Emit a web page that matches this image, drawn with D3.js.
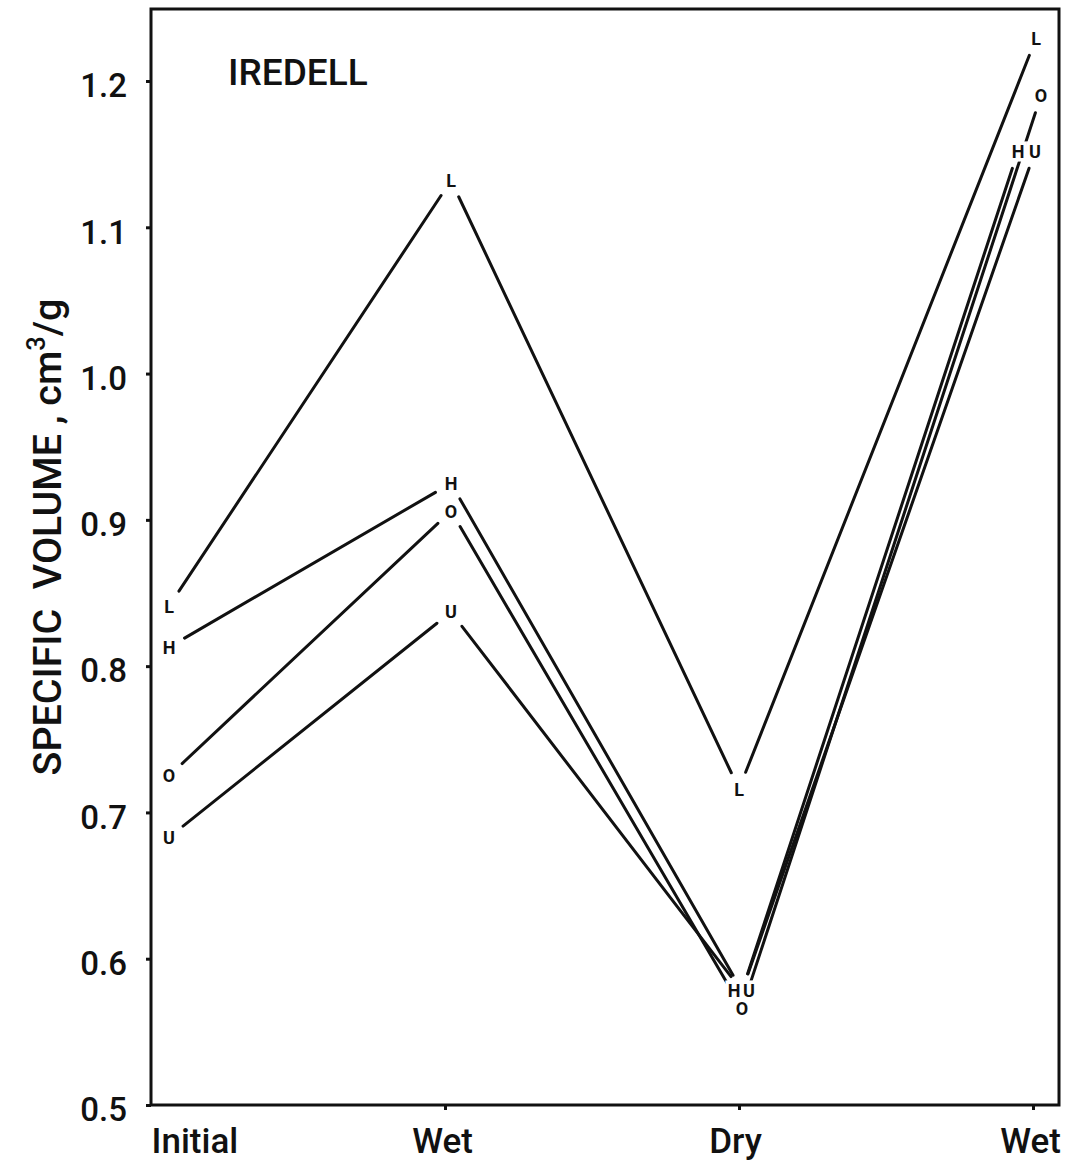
<!DOCTYPE html>
<html>
<head>
<meta charset="utf-8">
<script src="https://cdn.jsdelivr.net/npm/d3@7"></script>
<style>
  html, body { margin: 0; padding: 0; background: #fff; }
  svg { display: block; }
</style>
</head>
<body>
<svg id="chart" width="1066" height="1166"></svg>
<script>
// ---- data ----
const categories = ["Initial", "Wet", "Dry", "Wet"];
const seriesNames = ["L", "H", "O", "U"];
const valuesL = [0.841, 1.132, 0.716, 1.229];
const valuesH = [0.813, 0.925, 0.578, 1.152];
const valuesO = [0.725, 0.906, 0.566, 1.190];
const valuesU = [0.683, 0.837, 0.578, 1.152];
const yTickValues = [0.5, 0.6, 0.7, 0.8, 0.9, 1.0, 1.1, 1.2];
const yTickLabels = ["0.5", "0.6", "0.7", "0.8", "0.9", "1.0", "1.1", "1.2"];
const chartTitle = "IREDELL";

(function () {
// ---- layout / style (not data) ----
const frameL = 151, frameT = 9, frameR = 1059, frameB = 1105;
const ink = "#111";
// small horizontal offsets so overlapping series stay readable (px)
const pointDx = {
  L: [18, 6, 0, 3],
  H: [18, 6, 3, -15],
  O: [18, 6, 3, 8],
  U: [18, 6, 3, 2]
};
const labelDx = {
  L: [0, 0, 0, 0],
  H: [0, 0, -8, 0],
  O: [0, 0, 0, 0],
  U: [0, 0, 7, 0]
};
const trim = 18;

const seriesValues = { L: valuesL, H: valuesH, O: valuesO, U: valuesU };

const svg = d3.select("#chart");

const x = d3.scaleLinear().domain([0, categories.length - 1]).range([151, 1033]);
const y = d3.scaleLinear().domain([0.5, 1.2]).range([1105, 81]);

const fontFam = "Roboto, 'DejaVu Sans', sans-serif";

// frame
svg.append("rect")
  .attr("x", frameL).attr("y", frameT)
  .attr("width", frameR - frameL).attr("height", frameB - frameT)
  .attr("fill", "none").attr("stroke", ink).attr("stroke-width", 3);

// left axis
const yAxis = d3.axisLeft(y)
  .tickValues(yTickValues)
  .tickFormat((d, i) => yTickLabels[i])
  .tickSize(5).tickPadding(19);
const gy = svg.append("g").attr("transform", `translate(${frameL},0)`).call(yAxis);
gy.select(".domain").remove();
gy.selectAll(".tick line").attr("stroke", ink).attr("stroke-width", 3);
gy.selectAll(".tick text")
  .attr("fill", ink).attr("font-family", fontFam).attr("font-size", 33)
  .attr("font-weight", 500)
  .attr("dy", "0.48em");

// bottom axis
const xAxis = d3.axisBottom(x)
  .tickValues(d3.range(categories.length))
  .tickFormat((d) => categories[d])
  .tickSize(5).tickPadding(18);
const gx = svg.append("g").attr("transform", `translate(0,${frameB})`).call(xAxis);
gx.select(".domain").remove();
gx.selectAll(".tick line").attr("stroke", ink).attr("stroke-width", 3)
  .attr("display", (d) => d === 0 ? "none" : null);
gx.selectAll(".tick text")
  .attr("fill", ink).attr("font-family", fontFam).attr("font-size", 35)
  .attr("font-weight", 500)
  .attr("text-anchor", (d) => d === 0 ? "start" : "middle")
  .attr("dx", (d) => d === 0 ? 0 : (d === 2 ? -4 : -3));

// title
svg.append("text")
  .attr("x", 228).attr("y", 85)
  .attr("font-family", fontFam).attr("font-size", 37)
  .attr("font-weight", 500)
  .attr("fill", ink)
  .text(chartTitle);

// y-axis title
const yt = svg.append("text")
  .attr("transform", "translate(61,537) rotate(-90)")
  .attr("text-anchor", "middle")
  .attr("font-family", fontFam).attr("font-size", 40)
  .attr("font-weight", 500)
  .attr("fill", ink);
yt.append("tspan").text("SPECIFIC\u00A0\u00A0VOLUME\u00A0,\u00A0cm");
yt.append("tspan").attr("font-size", 26).attr("dy", -16).text("3");
yt.append("tspan").attr("dy", 16).text("/g");
const targetLen = 477;
const measured = yt.node().getComputedTextLength();
if (measured > 0) {
  const s = targetLen / measured;
  yt.attr("font-size", 40 * s);
  yt.selectAll("tspan").filter((d, i) => i === 1).attr("font-size", 26 * s).attr("dy", -16 * s);
  yt.selectAll("tspan").filter((d, i) => i === 2).attr("dy", 16 * s);
}

// series lines
const gLines = svg.append("g");
const gLabels = svg.append("g");
seriesNames.forEach((name) => {
  const vals = seriesValues[name];
  const pts = vals.map((v, i) => [x(i) + pointDx[name][i], y(v)]);
  for (let i = 0; i < pts.length - 1; i++) {
    const [x0, y0] = pts[i], [x1, y1] = pts[i + 1];
    const dx = x1 - x0, dy = y1 - y0;
    const len = Math.hypot(dx, dy);
    const ux = dx / len, uy = dy / len;
    gLines.append("line")
      .attr("x1", x0 + ux * trim).attr("y1", y0 + uy * trim)
      .attr("x2", x1 - ux * trim).attr("y2", y1 - uy * trim)
      .attr("stroke", ink).attr("stroke-width", 3)
      .attr("stroke-linecap", "round");
  }
  pts.forEach((p, i) => {
    gLabels.append("text")
      .attr("x", p[0] + labelDx[name][i])
      .attr("y", p[1])
      .attr("dy", "0.36em")
      .attr("text-anchor", "middle")
      .attr("font-family", fontFam).attr("font-weight", 700)
      .attr("font-size", 18)
      .attr("fill", ink)
      .attr("stroke", "#fff").attr("stroke-width", 7)
      .attr("paint-order", "stroke")
      .text(name);
  });
});
})();
</script>
</body>
</html>
